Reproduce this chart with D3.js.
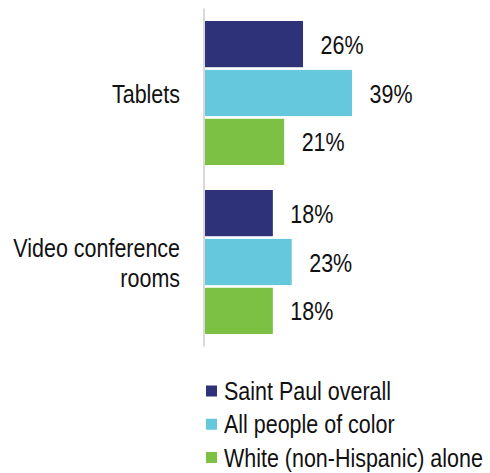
<!DOCTYPE html>
<html>
<head>
<meta charset="utf-8">
<script src="https://cdn.jsdelivr.net/npm/d3@7"></script>
<style>
  html, body { margin: 0; padding: 0; background: #fff; }
  svg { display: block; }
  text { font-family: "Liberation Sans", Arial, sans-serif; fill: #111; }
</style>
</head>
<body>
<svg id="chart" width="490" height="473"></svg>
<script>
// ---- data ----
const categories = ["Tablets", "Video conference rooms"];
const categoryLines = [["Tablets"], ["Video conference", "rooms"]];
const seriesNames = ["Saint Paul overall", "All people of color", "White (non-Hispanic) alone"];
const saintPaul = [26, 18];
const peopleOfColor = [39, 23];
const whiteAlone = [21, 18];
const seriesColors = ["#2E3278", "#66C8DD", "#7DC144"];

const seriesValues = [saintPaul, peopleOfColor, whiteAlone];

// ---- layout ----
const svg = d3.select("#chart");
const FS = 26.5, SX = 0.81;

const x = d3.scaleLinear().domain([0, 40]).range([205, 205 + 3.77 * 40]);
const y0 = d3.scaleBand().domain(categories).range([8.5, 346.5])
  .paddingInner(0.148).paddingOuter(0.074);
const y1 = d3.scaleBand().domain(seriesNames).range([0, y0.bandwidth()])
  .paddingInner(0.055).paddingOuter(0);

// bars
const groups = svg.selectAll("g.cat").data(categories).join("g")
  .attr("class", "cat")
  .attr("transform", d => `translate(0,${y0(d)})`);

groups.each(function(cat, ci) {
  const g = d3.select(this);
  seriesNames.forEach((s, si) => {
    const v = seriesValues[si][ci];
    g.append("rect")
      .attr("x", x(0))
      .attr("y", y1(s))
      .attr("width", x(v) - x(0))
      .attr("height", y1.bandwidth())
      .attr("fill", seriesColors[si]);
    g.append("g")
      .attr("transform", `translate(${x(v) + 17.5},${y1(s) + y1.bandwidth() / 2 + 9.6}) scale(${SX},1)`)
      .append("text")
      .attr("font-size", FS)
      .text(v + "%");
  });
});

// axis line (category axis)
const yAxis = d3.axisLeft(y0).tickSize(0).tickFormat("");
const ax = svg.append("g").attr("transform", `translate(${x(0) - 1},0)`).call(yAxis);
ax.select(".domain").attr("stroke", "#D9D9D9").attr("stroke-width", 2)
  .attr("d", `M0,8.5V346.5`);

// category labels
categories.forEach((c, ci) => {
  const lines = categoryLines[ci];
  const cy = y0(c) + y0.bandwidth() / 2;
  const lh = 30;
  lines.forEach((ln, li) => {
    const by = cy + 9.5 + (li - (lines.length - 1) / 2) * lh;
    svg.append("g")
      .attr("transform", `translate(180,${by}) scale(${SX},1)`)
      .append("text")
      .attr("text-anchor", "end")
      .attr("font-size", FS)
      .text(ln);
  });
});

// legend
const legendY = d3.scalePoint().domain(seriesNames).range([391, 457.5]);
seriesNames.forEach((s, si) => {
  const cy = legendY(s);
  svg.append("rect")
    .attr("x", 206).attr("y", cy - 5.5)
    .attr("width", 11).attr("height", 11)
    .attr("fill", seriesColors[si]);
  svg.append("g")
    .attr("transform", `translate(224,${cy + 9}) scale(${SX},1)`)
    .append("text")
    .attr("font-size", FS)
    .text(s);
});
</script>
</body>
</html>
